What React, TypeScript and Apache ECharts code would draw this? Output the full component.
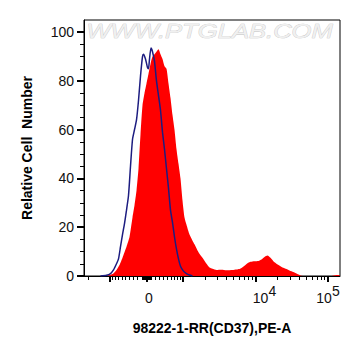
import React, { useEffect, useRef } from 'react';
import * as echarts from 'echarts';

// Histogram bins: x is the display channel (biexponential display units, 0 = value 0), y is relative cell number
const redX = [-40, -34, -30, -27, -24, -20, -17, -14, -12, -10, -8, -6, -4, -2, 0, 2, 4, 6, 8, 10, 12, 14, 16, 18, 20, 22, 24, 26, 28, 30, 32, 34, 36, 38, 40, 43, 46, 48, 51, 54, 56, 60, 63, 66, 70, 75, 80, 86, 90, 93, 96, 98, 101, 104, 108, 112, 115, 118, 121, 124, 128, 132, 136, 140, 145, 150, 154, 157, 185, 190, 193];
const redY = [0, 0.8, 2.5, 4.5, 7.5, 12, 16, 24, 29, 35, 44, 58, 70, 75, 79, 83, 87, 90, 91, 92, 93, 91, 89, 86, 85, 79, 73, 66, 60, 52, 46, 40, 31, 24, 21, 17, 14.5, 13, 10.5, 8.5, 7.5, 5, 3.5, 3, 2.5, 2.6, 2.4, 2.5, 2.7, 2.9, 3.6, 4.2, 5.2, 5.8, 6.1, 6.2, 6.8, 7.8, 8.4, 7.5, 5.6, 4.5, 3.5, 2.9, 1.9, 1, 0.2, 0, 0, 0.4, 0.4];

const blueX = [-46, -40, -36, -33, -30, -28, -26, -24, -22, -20, -18, -16, -14, -12, -10, -8, -6, -4, -3, -1, 1, 2, 3, 4.5, 6, 8, 10, 12, 14, 16, 18, 20, 22, 24, 26, 28, 30, 32, 34, 37, 40, 43, 46];
const blueY = [0, 0.3, 1, 2.5, 5, 7, 12, 17, 21.5, 27, 33, 45, 56, 60, 64, 72, 82, 90, 91, 89, 85.5, 85, 89, 93.5, 92, 88, 80, 74, 68, 59, 52, 44, 36, 27, 22, 16, 11, 7, 4, 2, 1, 0.4, 0];

// Y axis ticks
const yMajorTicks = [0, 20, 40, 60, 80, 100];
const yMinorTicks = [5, 10, 15, 25, 30, 35, 45, 50, 55, 65, 70, 75, 85, 90, 95];

// X axis ticks (raw fluorescence values)
const xMajorRaw = [-1000, 0, 1000, 10000, 100000];
const xLabelRaw = [0, 10000, 100000];
const xLabelExp = ['', '4', '5'];

const X_MIN = -62.5;
const X_MAX = 193.5;
const HALF = 36.5;
const DECADE = 72.5;
const K = 1.42;

function toDisplay(v: number): number {
  const a = Math.abs(v);
  let d: number;
  if (a <= 1000) d = (HALF * Math.asinh((a / 1000) * K)) / Math.asinh(K);
  else d = HALF + DECADE * Math.log10(a / 1000);
  return Math.sign(v) * d;
}

function minorRaw(): number[] {
  const out: number[] = [];
  for (let k = 1; k <= 9; k++) {
    out.push(k * 10, -k * 10, k * 100, -k * 100);
    if (k > 1) out.push(k * 1000, -k * 1000, k * 10000, -k * 10000, k * 100000);
  }
  return out;
}

export default function App() {
  const ref = useRef<HTMLDivElement>(null);

  useEffect(() => {
    if (!ref.current) return;
    const chart = echarts.init(ref.current, undefined, { renderer: 'svg' });

    const majorDisp = xMajorRaw.map(toDisplay);
    const minorDisp = minorRaw().map(toDisplay).filter((d) => d >= X_MIN && d <= X_MAX);
    const labelDisp = xLabelRaw.map(toDisplay);

    const labelFormatter = (val: number) => {
      const i = labelDisp.findIndex((d) => Math.abs(d - val) < 0.01);
      if (i < 0) return '';
      if (xLabelRaw[i] === 0) return '{z|0}';
      const base = i === 1 ? 'bs' : 'b';
      return `{${base}|10}{e|${xLabelExp[i]}}`;
    };

    const font = 'Liberation Sans, Arial, sans-serif';

    chart.setOption({
      animation: false,
      grid: {
        left: 84,
        right: 21,
        top: 20,
        bottom: 80,
        show: true,
        borderColor: '#000',
        borderWidth: 1,
        backgroundColor: 'transparent',
      },
      xAxis: [
        {
          type: 'value',
          min: X_MIN,
          max: X_MAX,
          position: 'bottom',
          name: '98222-1-RR(CD37),PE-A',
          nameLocation: 'middle',
          nameGap: 45,
          nameTextStyle: { fontFamily: font, fontWeight: 'bold', fontSize: 14, color: '#000' },
          axisLine: { show: true, onZero: false, lineStyle: { color: '#000', width: 1 } },
          splitLine: { show: false },
          axisTick: {
            show: true,
            customValues: majorDisp,
            length: 6,
            inside: false,
            lineStyle: { color: '#000', width: 2 },
          },
          axisLabel: {
            show: true,
            customValues: labelDisp,
            margin: 8,
            formatter: labelFormatter,
            rich: {
              z: { fontFamily: font, fontSize: 14, color: '#111', lineHeight: 21, verticalAlign: 'bottom', padding: [0, 0, 0, 5] },
              b: { fontFamily: font, fontSize: 14, color: '#111', lineHeight: 21, verticalAlign: 'bottom' },
              bs: { fontFamily: font, fontSize: 14, color: '#111', lineHeight: 21, verticalAlign: 'bottom', padding: [0, 0, 0, 18] },
              e: { fontFamily: font, fontSize: 14, color: '#111', lineHeight: 21, verticalAlign: 'top' },
            },
          },
        },
        {
          type: 'value',
          min: X_MIN,
          max: X_MAX,
          position: 'bottom',
          offset: 0,
          axisLine: { show: false, onZero: false },
          splitLine: { show: false },
          axisLabel: { show: false },
          axisTick: {
            show: true,
            customValues: minorDisp,
            length: 4,
            inside: false,
            lineStyle: { color: '#000', width: 1 },
          },
        },
      ],
      yAxis: [
        {
          type: 'value',
          min: 0,
          max: 105,
          position: 'left',
          name: 'Relative Cell  Number',
          nameLocation: 'middle',
          nameGap: 50,
          nameTextStyle: { fontFamily: font, fontWeight: 'bold', fontSize: 14, color: '#000' },
          axisLine: { show: true, onZero: false, lineStyle: { color: '#000', width: 1 } },
          splitLine: { show: false },
          axisTick: {
            show: true,
            customValues: yMajorTicks,
            length: 7,
            inside: false,
            lineStyle: { color: '#000', width: 2 },
          },
          axisLabel: {
            show: true,
            customValues: yMajorTicks,
            margin: 10,
            fontFamily: font,
            fontSize: 14,
            color: '#111',
          },
        },
        {
          type: 'value',
          min: 0,
          max: 105,
          position: 'left',
          offset: 0,
          axisLine: { show: false, onZero: false },
          splitLine: { show: false },
          axisLabel: { show: false },
          axisTick: {
            show: true,
            customValues: yMinorTicks,
            length: 4,
            inside: false,
            lineStyle: { color: '#000', width: 1 },
          },
        },
      ],
      graphic: [
        {
          type: 'text',
          left: 86,
          top: 21,
          scaleX: 1.28,
          silent: true,
          style: {
            text: 'WWW.PTGLAB.COM',
            font: 'italic 20px Liberation Sans, Arial, sans-serif',
            fill: '#f0f0f0',
            stroke: '#c2c2c2',
            lineWidth: 0.6,
          },
        },
      ],
      series: [
        {
          type: 'line',
          xAxisIndex: 0,
          yAxisIndex: 0,
          data: redX.map((x, i) => [x, redY[i]]),
          symbol: 'none',
          smooth: 0.2,
          lineStyle: { width: 0, color: '#ff0000' },
          itemStyle: { color: '#ff0000' },
          areaStyle: { color: '#ff0000', opacity: 1 },
          z: 2,
        },
        {
          type: 'line',
          xAxisIndex: 0,
          yAxisIndex: 0,
          data: blueX.map((x, i) => [x, blueY[i]]),
          symbol: 'none',
          smooth: 0.2,
          lineStyle: { width: 1.5, color: '#1c1c80' },
          itemStyle: { color: '#1c1c80' },
          z: 3,
        },
      ],
    });

    return () => chart.dispose();
  }, []);

  return (
    <div
      ref={ref}
      style={{ position: 'fixed', left: 0, top: 0, width: 361, height: 356, background: '#fff' }}
    />
  );
}
